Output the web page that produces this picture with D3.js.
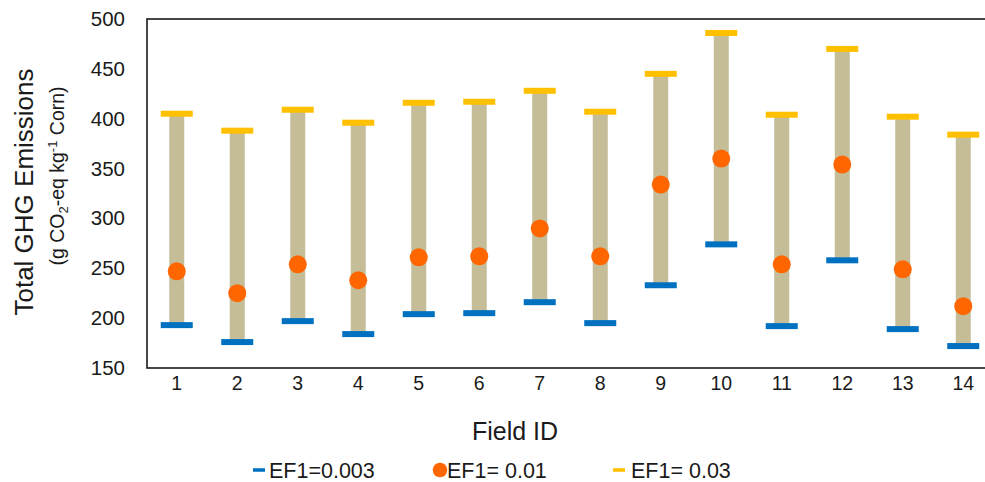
<!DOCTYPE html>
<html>
<head>
<meta charset="utf-8">
<script src="https://cdn.jsdelivr.net/npm/d3@7"></script>
<style>
	body { margin: 0; background: #fff; }
	svg { display: block; font-family: "Liberation Sans", Arial, sans-serif; }
</style>
</head>
<body>
<svg id="chart" width="985" height="482"></svg>
<script>
'use strict';

// data
const fields = ['1', '2', '3', '4', '5', '6', '7', '8', '9', '10', '11', '12', '13', '14'];
const ef003 = [193, 176, 197, 184, 204, 205, 216, 195, 233, 274, 192, 258, 189, 172];
const ef01 = [247, 225, 254, 238, 261, 262, 290, 262, 334, 360, 254, 354, 249, 212];
const ef03 = [405, 388, 409, 396, 416, 417, 428, 407, 445, 486, 404, 470, 402, 384];
const yTicks = [150, 200, 250, 300, 350, 400, 450, 500];

const colors = { low: '#0070c0', mid: '#ff6600', high: '#ffc000', bar: '#c4bd97' };
const ink = '#1a1a1a';

const svg = d3.select('#chart');

const x = d3.scaleBand()
	.domain(fields)
	.range([146.5, 993.5])
	.padding(0);

const y = d3.scaleLinear()
	.domain([150, 500])
	.range([368, 19]);

const rows = fields.map((f, i) => ({ f, lo: ef003[i], mid: ef01[i], hi: ef03[i] }));
const cx = d => x(d.f) + x.bandwidth() / 2;

// plot frame (right side runs off the picture)
svg.append('rect')
	.attr('x', 147)
	.attr('y', 19)
	.attr('width', 900)
	.attr('height', 349)
	.attr('fill', 'none')
	.attr('stroke', ink)
	.attr('stroke-width', 1.6);

/* range bars */
svg.append('g').selectAll('rect')
	.data(rows)
	.join('rect')
		.attr('x', d => cx(d) - 7.5)
		.attr('y', d => y(d.hi))
		.attr('width', 15)
		.attr('height', d => y(d.lo) - y(d.hi))
		.attr('fill', colors.bar);

/* caps */
svg.append('g').selectAll('rect')
	.data(rows)
	.join('rect')
		.attr('x', d => cx(d) - 16)
		.attr('y', d => y(d.lo) - 3)
		.attr('width', 32)
		.attr('height', 6)
		.attr('fill', colors.low);

svg.append('g').selectAll('rect')
	.data(rows)
	.join('rect')
		.attr('x', d => cx(d) - 16)
		.attr('y', d => y(d.hi) - 3)
		.attr('width', 32)
		.attr('height', 6)
		.attr('fill', colors.high);

svg.append('g').selectAll('circle')
	.data(rows)
	.join('circle')
		.attr('cx', cx)
		.attr('cy', d => y(d.mid))
		.attr('r', 9)
		.attr('fill', colors.mid);

/* axes */
const yAxis = svg.append('g')
	.attr('transform', 'translate(147,0)')
	.call(d3.axisLeft(y).tickValues(yTicks).tickSize(0).tickPadding(22));
yAxis.select('.domain').remove();
yAxis.selectAll('text')
	.attr('font-size', 20.5)
	.attr('font-family', 'Liberation Sans, Arial, sans-serif')
	.attr('fill', ink);

const xAxis = svg.append('g')
	.attr('transform', 'translate(0,368)')
	.call(d3.axisBottom(x).tickSize(0).tickPadding(8));
xAxis.select('.domain').remove();
xAxis.selectAll('text')
	.attr('font-size', 19.5)
	.attr('font-family', 'Liberation Sans, Arial, sans-serif')
	.attr('fill', ink);

svg.append('text')
	.attr('x', 515)
	.attr('y', 440)
	.attr('text-anchor', 'middle')
	.attr('font-size', 25)
	.attr('fill', ink)
	.text('Field ID');

svg.append('text')
	.attr('transform', 'translate(33,192) rotate(-90)')
	.attr('text-anchor', 'middle')
	.attr('font-size', 26)
	.attr('fill', ink)
	.text('Total GHG Emissions');

const sub = svg.append('text')
	.attr('transform', 'translate(64,176) rotate(-90)')
	.attr('text-anchor', 'middle')
	.attr('font-size', 19.5)
	.attr('fill', ink);
sub.append('tspan').text('(g CO');
sub.append('tspan').attr('font-size', 13).attr('dy', 4).text('2');
sub.append('tspan').attr('dy', -4).text('-eq kg');
sub.append('tspan').attr('font-size', 13).attr('dy', -7).text('-1');
sub.append('tspan').attr('dy', 7).text(' Corn)');

/* legend */
const legend = svg.append('g').attr('transform', 'translate(0,470)');

legend.append('rect').attr('x', 253).attr('y', -1.75).attr('width', 12).attr('height', 3.5).attr('fill', colors.low);
legend.append('text').attr('x', 269).attr('y', 7.5).attr('font-size', 21.5).attr('fill', ink).text('EF1=0.003');

legend.append('circle').attr('cx', 440).attr('cy', 0).attr('r', 7.3).attr('fill', colors.mid);
legend.append('text').attr('x', 447).attr('y', 7.5).attr('font-size', 21.5).attr('fill', ink).text('EF1= 0.01');

legend.append('rect').attr('x', 613).attr('y', -1.75).attr('width', 12).attr('height', 3.5).attr('fill', colors.high);
legend.append('text').attr('x', 631).attr('y', 7.5).attr('font-size', 21.5).attr('fill', ink).text('EF1= 0.03');
</script>
</body>
</html>
